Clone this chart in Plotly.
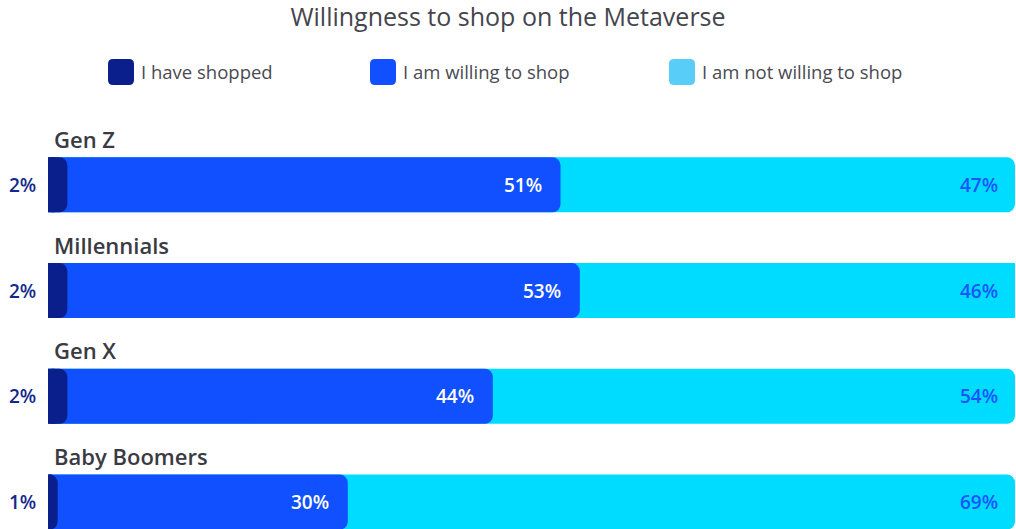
import plotly.graph_objects as go

categories = ["Gen Z", "Millennials", "Gen X", "Baby Boomers"]
shopped = [2, 2, 2, 1]
willing = [51, 53, 44, 30]
not_willing = [47, 46, 54, 69]
series_names = ["I have shopped", "I am willing to shop", "I am not willing to shop"]

NAVY = "#0b1f8c"
BLUE = "#1150ff"
CYAN = "#00dcff"
LEG_CYAN = "#58cdf8"
FONT = "Open Sans"

W, H = 1016, 529
ML, MR, MT, MB = 48, 1, 132, 0
PW, PH = W - ML - MR, H - MT - MB

def px(x):
    return (x - ML) / PW

def py(y):
    return (H - MB - y) / PH

cum1 = shopped
cum2 = [a + b for a, b in zip(shopped, willing)]
cum3 = [a + b + c for a, b, c in zip(shopped, willing, not_willing)]

fig = go.Figure()
layers = [
    (cum3, None, CYAN, "y"),
    (cum2, None, BLUE, "y2"),
    (cum1, None, NAVY, "y3"),
    ([-v / 2 for v in shopped], [v / 2 for v in shopped], NAVY, "y4"),  # rounded left end of the first segment
]
for vals, base, col, ax in layers:
    fig.add_trace(go.Bar(y=categories, x=vals, base=base, orientation="h", yaxis=ax,
                         marker=dict(color=col, line=dict(width=0), cornerradius=8),
                         width=0.52, showlegend=False, hoverinfo="skip"))

annotations = []
for i, cat in enumerate(categories):
    annotations.append(dict(x=0, y=cat, xref="x", yref="y", text=cat, showarrow=False, xanchor="left",
                            yanchor="middle", xshift=4, yshift=46,
                            font=dict(family=FONT, size=22, color="#3a3a42", weight=600)))
    annotations.append(dict(x=0, y=cat, xref="x", yref="y", text=f"{shopped[i]}%", showarrow=False, xanchor="right",
                            yanchor="middle", xshift=-10, font=dict(family=FONT, size=19, color="#13288c", weight=600)))
    annotations.append(dict(x=cum2[i], y=cat, xref="x", yref="y", text=f"{willing[i]}%", showarrow=False, xanchor="right",
                            yanchor="middle", xshift=-17, font=dict(family=FONT, size=19, color="white", weight=600)))
    annotations.append(dict(x=min(cum3[i], 100), y=cat, xref="x", yref="y", text=f"{not_willing[i]}%", showarrow=False,
                            xanchor="right", yanchor="middle", xshift=-15,
                            font=dict(family=FONT, size=19, color="#1a55ff", weight=600)))

# custom legend
shapes = []
leg_x = [108, 370, 669]
leg_cols = [NAVY, BLUE, LEG_CYAN]
y0, y1, r = 59, 85, 5
for lx, col, name in zip(leg_x, leg_cols, series_names):
    x0, x1 = lx, lx + 26
    pts = [
        ("M", x0 + r, y0), ("L", x1 - r, y0), ("Q", x1, y0, x1, y0 + r), ("L", x1, y1 - r),
        ("Q", x1, y1, x1 - r, y1), ("L", x0 + r, y1), ("Q", x0, y1, x0, y1 - r), ("L", x0, y0 + r),
        ("Q", x0, y0, x0 + r, y0),
    ]
    path = ""
    for p in pts:
        if p[0] == "Q":
            path += f"Q {px(p[1]):.5f},{py(p[2]):.5f} {px(p[3]):.5f},{py(p[4]):.5f} "
        else:
            path += f"{p[0]} {px(p[1]):.5f},{py(p[2]):.5f} "
    path += "Z"
    shapes.append(dict(type="path", path=path, xref="paper", yref="paper", fillcolor=col, line=dict(width=0)))
    annotations.append(dict(x=px(x1 + 5), y=py(72), xref="paper", yref="paper", text=name, showarrow=False,
                            xanchor="left", yanchor="middle",
                            font=dict(family=FONT, size=18.5, color="#4a4a52", weight=400)))

yax = dict(categoryorder="array", categoryarray=categories, range=[3.255, -0.5], visible=False, fixedrange=True)

fig.update_layout(
    width=W, height=H,
    margin=dict(l=ML, r=MR, t=MT, b=MB),
    barmode="overlay",
    plot_bgcolor="white", paper_bgcolor="white",
    title=dict(text="Willingness to shop on the Metaverse", x=0.5, xanchor="center", y=1 - 17 / H, yanchor="middle",
               font=dict(family=FONT, size=25, color="#45454d", weight=500)),
    xaxis=dict(range=[0, 100], visible=False, fixedrange=True),
    yaxis=yax,
    yaxis2=dict(yax, overlaying="y"),
    yaxis3=dict(yax, overlaying="y"),
    yaxis4=dict(yax, overlaying="y"),
    annotations=annotations,
    shapes=shapes,
    showlegend=False,
)

fig.write_html("out.html", config={"displayModeBar": False},
               post_script="document.body.style.margin='0';document.body.style.overflow='hidden';")
